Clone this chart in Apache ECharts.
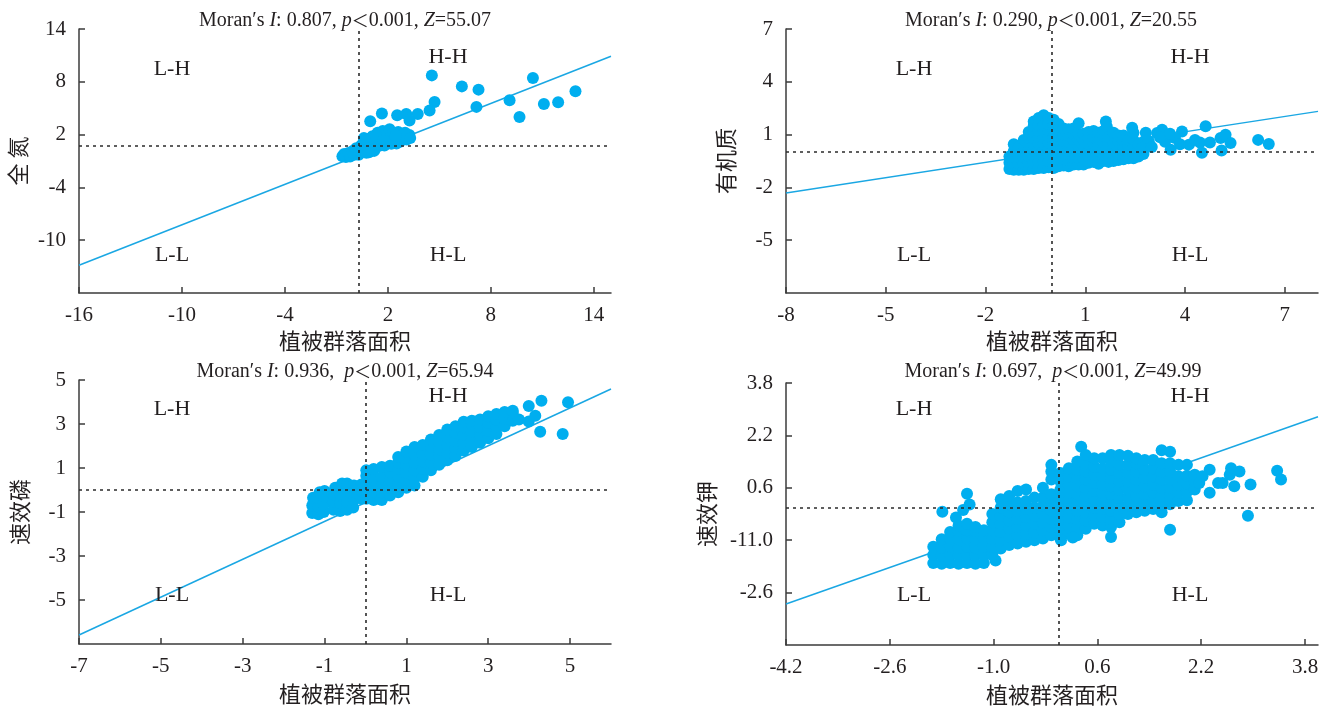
<!DOCTYPE html>
<html><head><meta charset="utf-8">
<script src="https://cdn.jsdelivr.net/npm/echarts@6/dist/echarts.min.js"></script>
<style>html,body{margin:0;padding:0;background:#fff}#c{width:1331px;height:707px}</style>
</head><body><div id="c"></div>
<script>
// ---------------- DATA ----------------
const xAxisName = '植被群落面积';
const yNames = ['全 氮', '有机质', '速效磷', '速效钾'];
const moranI = ['0.807', '0.290', '0.936', '0.697'];
const moranZ = ['55.07', '20.55', '65.94', '49.99'];
const quadLabels = ['L-H', 'H-H', 'L-L', 'H-L'];

const xRange = [[-16, 15], [-8, 8], [-7, 6], [-4.2, 4.0]];
const yRange = [[-16, 14], [-8, 7], [-7, 5], [-4.2, 3.8]];
const xTicks = [[-16, -10, -4, 2, 8, 14], [-8, -5, -2, 1, 4, 7], [-7, -5, -3, -1, 1, 3, 5], [-4.2, -2.6, -1.0, 0.6, 2.2, 3.8]];
const yTicks = [[-10, -4, 2, 8, 14], [-5, -2, 1, 4, 7], [-5, -3, -1, 1, 3, 5], [-2.6, -1.0, 0.6, 2.2, 3.8]];
const xTickLabels = [['-16', '-10', '-4', '2', '8', '14'], ['-8', '-5', '-2', '1', '4', '7'], ['-7', '-5', '-3', '-1', '1', '3', '5'], ['-4.2', '-2.6', '-1.0', '0.6', '2.2', '3.8']];
const yTickLabels = [['-10', '-4', '2', '8', '14'], ['-5', '-2', '1', '4', '7'], ['-5', '-3', '-1', '1', '3', '5'], ['-2.6', '-11.0', '0.6', '2.2', '3.8']];

// mean reference lines (x, y)
const meanLines = [[0.33, 0.77], [0, 0], [0, 0], [0, 0]];

// regression (Moran) lines: endpoints
const fitN = [[-16, -12.84], [15, 10.9]];
const fitOM = [[-8, -2.32], [8, 2.32]];
const fitP = [[-7, -6.59], [6, 4.59]];
const fitK = [[-4.2, -2.95], [4.0, 2.77]];

// 全氮 points
const ptsN = [
[4.56,8.73],[6.31,7.48],[7.28,7.11],[10.45,8.44],[12.93,6.92],[9.09,5.90],[11.09,5.49],[11.92,5.67],[9.67,4.01],[7.16,5.15],
[4.72,5.71],[4.43,4.73],[3.74,4.35],[3.07,4.35],[2.54,4.19],[1.65,4.39],[0.97,3.51],[3.26,3.59],
[-0.65,-0.45],[-0.55,-0.2],[-0.45,-0.55],[-0.3,-0.1],[-0.2,-0.5],[-0.05,0.15],[0.05,-0.3],[0.15,0.45],[0.3,-0.3],[0.35,0.1],
[0.45,0.8],[0.55,0.25],[0.6,1.2],[0.75,-0.05],[0.8,0.6],[0.85,1.5],[1.0,1.0],[1.0,0.25],[1.1,1.8],[1.2,1.3],[1.3,0.5],
[1.4,2.2],[1.5,1.6],[1.6,0.8],[1.7,2.4],[1.8,0.75],[1.9,1.8],[2.0,1.2],[2.1,2.6],[2.2,0.95],[2.3,2.1],[2.4,1.5],[2.6,2.3],
[2.7,1.2],[2.8,1.8],[3.0,2.2],[3.1,1.45],[3.25,1.95],[3.3,1.6],[2.5,1.0],[1.2,0.15],[0.9,0.0],[0.6,1.6],[1.3,1.9],[1.75,1.3],[2.45,1.9]
];

// 有机质 points
const ptsOM = [
[-1.28,-0.95],[-1.28,-0.6],[-1.28,-0.25],
[-1.15,-1.0],[-1.15,-0.65],[-1.15,-0.3],[-1.15,0.05],[-1.15,0.45],
[-1.0,-1.0],[-1.0,-0.65],[-1.0,-0.3],[-1.0,0.05],[-1.0,0.3],
[-0.85,-1.0],[-0.85,-0.65],[-0.85,-0.3],[-0.85,0.05],[-0.85,0.4],[-0.85,0.7],
[-0.7,-0.95],[-0.7,-0.6],[-0.7,-0.25],[-0.7,0.1],[-0.7,0.45],[-0.7,0.8],[-0.7,1.15],
[-0.55,-0.95],[-0.55,-0.6],[-0.55,-0.25],[-0.55,0.1],[-0.55,0.45],[-0.55,0.8],[-0.55,1.15],[-0.55,1.5],[-0.55,1.75],
[-0.4,-0.9],[-0.4,-0.55],[-0.4,-0.2],[-0.4,0.15],[-0.4,0.5],[-0.4,0.85],[-0.4,1.2],[-0.4,1.55],[-0.4,1.95],
[-0.25,-0.9],[-0.25,-0.55],[-0.25,-0.2],[-0.25,0.15],[-0.25,0.5],[-0.25,0.85],[-0.25,1.2],[-0.25,1.55],[-0.25,2.1],
[-0.1,-0.85],[-0.1,-0.5],[-0.1,-0.15],[-0.1,0.2],[-0.1,0.55],[-0.1,0.9],[-0.1,1.25],[-0.1,1.6],[-0.1,1.95],
[0.05,-0.9],[0.05,-0.55],[0.05,-0.2],[0.05,0.15],[0.05,0.5],[0.05,0.85],[0.05,1.2],[0.05,1.55],[0.05,1.85],
[0.2,-0.8],[0.2,-0.45],[0.2,-0.1],[0.2,0.25],[0.2,0.6],[0.2,0.95],[0.2,1.3],[0.2,1.6],
[0.35,-0.75],[0.35,-0.4],[0.35,-0.05],[0.35,0.3],[0.35,0.65],[0.35,1.0],[0.35,1.35],
[0.5,-0.8],[0.5,-0.45],[0.5,-0.1],[0.5,0.25],[0.5,0.6],[0.5,0.95],[0.5,1.3],
[0.65,-0.7],[0.65,-0.35],[0.65,0.0],[0.65,0.35],[0.65,0.7],[0.65,1.05],[0.65,1.35],
[0.8,-0.7],[0.8,-0.35],[0.8,0.0],[0.8,0.35],[0.8,0.7],[0.8,1.05],[0.8,1.65],
[0.95,-0.7],[0.95,-0.35],[0.95,0.0],[0.95,0.35],[0.95,0.7],[0.95,1.05],
[1.1,-0.6],[1.1,-0.25],[1.1,0.1],[1.1,0.45],[1.1,0.8],[1.1,1.15],
[1.25,-0.55],[1.25,-0.2],[1.25,0.15],[1.25,0.5],[1.25,0.85],[1.25,1.2],
[1.4,-0.65],[1.4,-0.3],[1.4,0.05],[1.4,0.4],[1.4,0.75],[1.4,1.1],
[1.55,-0.5],[1.55,-0.15],[1.55,0.2],[1.55,0.55],[1.55,0.9],[1.55,1.2],[1.65,1.45],
[1.7,-0.55],[1.7,-0.2],[1.7,0.15],[1.7,0.5],[1.7,0.85],
[1.85,-0.5],[1.85,-0.15],[1.85,0.2],[1.85,0.55],[1.85,0.9],[1.85,1.1],
[2.0,-0.45],[2.0,-0.1],[2.0,0.25],[2.0,0.6],[2.0,0.95],
[2.15,-0.4],[2.15,-0.05],[2.15,0.3],[2.15,0.65],[2.15,0.95],
[2.3,-0.35],[2.3,0.0],[2.3,0.35],[2.3,0.7],
[2.45,-0.35],[2.45,0.0],[2.45,0.35],[2.45,0.7],[2.45,1.1],
[2.6,-0.25],[2.6,0.1],[2.6,0.45],[2.75,-0.1],[2.75,0.25],[2.75,0.6],
[2.82,1.1],[2.91,0.62],[2.71,0.25],[3.16,1.09],[3.31,1.28],[3.57,0.14],[3.91,1.18],[4.12,0.43],[4.3,0.7],[4.51,-0.03],
[4.62,1.47],[5.07,0.81],[5.22,0.99],[5.37,0.52],[5.1,0.1],[6.2,0.7],[6.52,0.47],[3.0,0.3],[3.4,0.6],[3.7,0.8],
[3.25,0.85],[3.55,1.05],[3.85,0.45],[4.45,0.55],[4.75,0.55],[2.41,1.39],[1.62,1.75]
];

// 速效磷 points
const ptsP = [
[-1.3,-1.05],[-1.3,-0.7],[-1.28,-0.35],[-1.15,-1.1],[-1.15,-0.75],[-1.15,-0.4],[-1.12,-0.1],[-1.02,-1.0],[-1.02,-0.65],[-1.0,-0.3],[-1.0,-0.05],
[-0.78,-0.9],[-0.78,-0.55],[-0.76,-0.2],[-0.74,0.1],[-0.62,-0.95],[-0.62,-0.6],[-0.6,-0.25],[-0.58,0.1],[-0.57,0.3],
[-0.45,-0.9],[-0.45,-0.55],[-0.43,-0.2],[-0.42,0.1],[-0.45,0.3],[-0.3,-0.8],[-0.28,-0.45],[-0.26,-0.1],[-0.28,0.2],
[-0.1,-0.4],[-0.1,-0.05],[-0.1,0.25],
[0.02,-0.4],[0.02,-0.05],[0.02,0.3],[0.02,0.65],[0.02,0.9],
[0.2,-0.45],[0.2,-0.1],[0.2,0.25],[0.2,0.6],[0.2,0.95],
[0.4,-0.45],[0.4,-0.1],[0.4,0.25],[0.4,0.6],[0.4,1.05],
[0.6,-0.25],[0.6,0.1],[0.6,0.45],[0.6,0.8],[0.6,1.1],
[0.8,-0.1],[0.8,0.25],[0.8,0.6],[0.8,0.95],[0.8,1.25],[0.8,1.5],
[1.0,0.1],[1.0,0.45],[1.0,0.8],[1.0,1.15],[1.0,1.45],[1.0,1.75],
[1.2,0.2],[1.2,0.55],[1.2,0.9],[1.2,1.25],[1.2,1.6],[1.2,1.95],
[1.4,0.6],[1.4,0.95],[1.4,1.3],[1.4,1.65],[1.4,2.05],
[1.6,0.9],[1.6,1.25],[1.6,1.6],[1.6,1.95],[1.6,2.3],
[1.8,1.15],[1.8,1.5],[1.8,1.85],[1.8,2.2],[1.8,2.5],
[2.0,1.35],[2.0,1.7],[2.0,2.05],[2.0,2.4],[2.0,2.75],
[2.2,1.55],[2.2,1.9],[2.2,2.25],[2.2,2.6],[2.2,2.9],
[2.4,1.8],[2.4,2.15],[2.4,2.5],[2.4,2.85],[2.4,3.1],
[2.6,1.95],[2.6,2.3],[2.6,2.65],[2.6,3.0],[2.6,3.15],
[2.8,2.15],[2.8,2.5],[2.8,2.85],[2.8,3.2],
[3.0,2.35],[3.0,2.7],[3.0,3.05],[3.0,3.35],
[3.2,2.55],[3.2,2.9],[3.2,3.2],[3.2,3.45],
[3.4,2.9],[3.4,3.25],[3.4,3.55],[3.6,3.15],[3.6,3.5],[3.6,3.6],[3.75,3.2],
[3.99,3.82],[4.3,4.06],[4.95,3.99],[4.15,3.37],[3.99,3.11],[4.27,2.65],[4.82,2.55]
];

// 速效钾 points
const ptsK = [
[-1.93,-1.7],[-1.93,-1.45],[-1.93,-1.2],
[-1.8,-1.72],[-1.8,-1.47],[-1.8,-1.22],[-1.8,-0.97],
[-1.67,-1.7],[-1.67,-1.45],[-1.67,-1.2],[-1.67,-0.95],[-1.67,-0.75],
[-1.54,-1.72],[-1.54,-1.47],[-1.54,-1.22],[-1.54,-0.97],[-1.54,-0.72],[-1.54,-0.55],
[-1.41,-1.7],[-1.41,-1.45],[-1.41,-1.2],[-1.41,-0.95],[-1.41,-0.7],[-1.41,-0.5],
[-1.28,-1.72],[-1.28,-1.47],[-1.28,-1.22],[-1.28,-0.97],[-1.28,-0.72],[-1.28,-0.6],
[-1.15,-1.7],[-1.15,-1.45],[-1.15,-1.2],[-1.15,-0.95],[-1.15,-0.7],
[-1.41,0.42],[-1.37,0.09],[-1.47,-0.08],[-1.79,-0.13],[-1.58,-0.31],[-0.97,-1.62],
[-1.02,-1.45],[-1.02,-1.2],[-1.02,-0.95],[-1.02,-0.7],[-1.02,-0.45],[-1.02,-0.2],
[-0.89,-1.25],[-0.89,-1.0],[-0.89,-0.75],[-0.89,-0.5],[-0.89,-0.25],[-0.89,0.0],[-0.89,0.25],
[-0.76,-1.15],[-0.76,-0.9],[-0.76,-0.65],[-0.76,-0.4],[-0.76,-0.15],[-0.76,0.1],[-0.76,0.35],
[-0.63,-1.1],[-0.63,-0.85],[-0.63,-0.6],[-0.63,-0.35],[-0.63,-0.1],[-0.63,0.15],[-0.63,0.5],
[-0.5,-1.05],[-0.5,-0.8],[-0.5,-0.55],[-0.5,-0.3],[-0.5,-0.05],[-0.5,0.2],[-0.5,0.55],
[-0.37,-1.0],[-0.37,-0.75],[-0.37,-0.5],[-0.37,-0.25],[-0.37,0.0],[-0.37,0.3],
[-0.24,-0.95],[-0.24,-0.7],[-0.24,-0.45],[-0.24,-0.2],[-0.24,0.05],[-0.24,0.3],[-0.24,0.6],
[-0.11,-0.85],[-0.11,-0.6],[-0.11,-0.35],[-0.11,-0.1],[-0.11,0.15],[-0.11,0.4],[-0.11,0.85],[-0.11,1.1],[-0.11,1.3],
[0.03,-0.95],[0.03,-0.7],[0.03,-0.45],[0.03,-0.2],[0.03,0.05],[0.03,0.3],[0.03,0.55],[0.03,0.8],[0.03,1.05],
[0.16,-0.8],[0.16,-0.55],[0.16,-0.3],[0.16,-0.05],[0.16,0.2],[0.16,0.45],[0.16,0.7],[0.16,0.95],[0.16,1.2],
[0.29,-0.85],[0.29,-0.6],[0.29,-0.35],[0.29,-0.1],[0.29,0.15],[0.29,0.4],[0.29,0.65],[0.29,0.9],[0.29,1.15],[0.29,1.4],[0.35,1.85],
[0.42,-0.65],[0.42,-0.4],[0.42,-0.15],[0.42,0.1],[0.42,0.35],[0.42,0.6],[0.42,0.85],[0.42,1.1],[0.42,1.35],[0.42,1.6],
[0.55,-0.5],[0.55,-0.25],[0.55,0.0],[0.55,0.25],[0.55,0.5],[0.55,0.75],[0.55,1.0],[0.55,1.25],[0.55,1.5],
[0.68,-0.55],[0.68,-0.3],[0.68,-0.05],[0.68,0.2],[0.68,0.45],[0.68,0.7],[0.68,0.95],[0.68,1.2],[0.68,1.5],
[0.81,-0.9],[0.81,-0.6],[0.81,-0.35],[0.81,-0.1],[0.81,0.15],[0.81,0.4],[0.81,0.65],[0.81,0.9],[0.81,1.15],[0.81,1.4],[0.81,1.6],
[0.94,-0.45],[0.94,-0.2],[0.94,0.05],[0.94,0.3],[0.94,0.55],[0.94,0.8],[0.94,1.05],[0.94,1.3],[0.94,1.6],
[1.07,-0.2],[1.07,0.05],[1.07,0.3],[1.07,0.55],[1.07,0.8],[1.07,1.05],[1.07,1.3],[1.07,1.58],
[1.2,-0.15],[1.2,0.1],[1.2,0.35],[1.2,0.6],[1.2,0.85],[1.2,1.1],[1.2,1.35],[1.2,1.5],
[1.33,-0.1],[1.33,0.15],[1.33,0.4],[1.33,0.65],[1.33,0.9],[1.33,1.15],[1.33,1.45],
[1.46,-0.05],[1.46,0.2],[1.46,0.45],[1.46,0.7],[1.46,0.95],[1.46,1.2],[1.46,1.45],
[1.59,-0.15],[1.59,0.1],[1.59,0.35],[1.59,0.6],[1.59,0.85],[1.59,1.1],[1.59,1.35],[1.59,1.75],
[1.72,-0.68],[1.72,0.1],[1.72,0.35],[1.72,0.6],[1.72,0.85],[1.72,1.1],[1.72,1.35],[1.72,1.7],
[1.85,0.2],[1.85,0.45],[1.85,0.7],[1.85,0.95],[1.85,1.3],
[1.98,0.22],[1.98,0.47],[1.98,0.72],[1.98,0.97],[1.98,1.3],
[2.1,0.55],[2.1,0.8],[2.1,1.0],
[2.33,1.15],[2.33,0.45],[2.53,0.75],[2.64,1.0],[2.66,1.2],[2.79,1.1],[2.71,0.65],[2.96,0.7],[2.92,-0.25],[3.37,1.12],
[3.43,0.85],[2.17,0.75],[2.22,0.95],[2.46,0.75],[0.04,-1.0],[0.22,-0.92]
];

const pointSets = [ptsN, ptsOM, ptsP, ptsK];
const fitLines = [fitN, fitOM, fitP, fitK];

// ---------------- LAYOUT ----------------
const grids = [
  {left: 79, top: 29, width: 532, height: 264},
  {left: 786, top: 29, width: 532, height: 264},
  {left: 79, top: 380, width: 532, height: 264},
  {left: 786, top: 383, width: 532, height: 264}
];
const yNameGap = [50, 49, 48, 68];
const xNameGap = [37, 37, 39, 39];
const titlePos = [[345, 21, ' '], [1051, 21, ' '], [345, 372, '  '], [1053, 372, '  ']];
const quadPos = [
  [[172, 69], [448, 57], [172, 255], [448, 255]],
  [[914, 69], [1190, 57], [914, 255], [1190, 255]],
  [[172, 409], [448, 396], [172, 595], [448, 595]],
  [[914, 409], [1190, 396], [914, 595], [1190, 595]]
];

const SERIF = '"Liberation Serif", "Times New Roman", serif';
const CJK = '"Noto Sans CJK SC", sans-serif';
const TXT = '#231f20';
const AX = '#3b3b3b';
const DOT = '#00AEEF';
const FIT = '#1AA7E3';

function lookup(ticks, labels) {
  return function (v) {
    for (let k = 0; k < ticks.length; k++) if (Math.abs(ticks[k] - v) < 1e-6) return labels[k];
    return '';
  };
}

const xAxes = [], yAxes = [], series = [], graphics = [];
for (let i = 0; i < 4; i++) {
  xAxes.push({
    type: 'value', gridIndex: i, min: xRange[i][0], max: xRange[i][1],
    name: xAxisName, nameLocation: 'middle', nameGap: xNameGap[i],
    nameTextStyle: {fontFamily: CJK, fontSize: 22, color: TXT},
    axisLine: {show: true, onZero: false, lineStyle: {color: AX, width: 1.5}},
    axisTick: {show: true, inside: true, length: 6, customValues: xTicks[i], lineStyle: {color: AX, width: 1.5}},
    axisLabel: {customValues: xTicks[i], formatter: lookup(xTicks[i], xTickLabels[i]), fontFamily: SERIF, fontSize: 21, color: TXT, margin: 12},
    splitLine: {show: false}
  });
  yAxes.push({
    type: 'value', gridIndex: i, min: yRange[i][0], max: yRange[i][1],
    name: yNames[i], nameLocation: 'middle', nameGap: yNameGap[i], nameRotate: 90,
    nameTextStyle: {fontFamily: CJK, fontSize: 22, color: TXT},
    axisLine: {show: true, onZero: false, lineStyle: {color: AX, width: 1.5}},
    axisTick: {show: true, inside: true, length: 6, customValues: yTicks[i], lineStyle: {color: AX, width: 1.5}},
    axisLabel: {customValues: yTicks[i], formatter: lookup(yTicks[i], yTickLabels[i]), fontFamily: SERIF, fontSize: 21, color: TXT, margin: 13},
    splitLine: {show: false}
  });
  series.push({
    type: 'line', xAxisIndex: i, yAxisIndex: i, data: fitLines[i], symbol: 'none', silent: true,
    lineStyle: {color: FIT, width: 1.5}, z: 1
  });
  series.push({
    type: 'scatter', xAxisIndex: i, yAxisIndex: i, data: pointSets[i], symbolSize: 12,
    itemStyle: {color: DOT, opacity: 1}, z: 2, silent: true
  });
  series.push({
    type: 'line', xAxisIndex: i, yAxisIndex: i, data: [], z: 5, silent: true,
    markLine: {
      silent: true, symbol: 'none', label: {show: false}, animation: false,
      lineStyle: {type: [3, 4], color: '#2b2b2b', width: 1.6},
      data: [{xAxis: meanLines[i][0]}, {yAxis: meanLines[i][1]}]
    }
  });
  const sp = titlePos[i][2];
  graphics.push({
    type: 'text', z: 10,
    style: {
      x: titlePos[i][0], y: titlePos[i][1], align: 'center', verticalAlign: 'middle',
      text: '{n|Moran\u2032s }{i|I}{n|: ' + moranI[i] + ',' + sp + '}{i|p}{c|\uFF1C}{n|0.001, }{i|Z}{n|=' + moranZ[i] + '}',
      rich: {
        n: {fontFamily: SERIF, fontSize: 20, fill: TXT},
        i: {fontFamily: SERIF, fontSize: 20, fontStyle: 'italic', fill: TXT},
        c: {fontFamily: CJK, fontSize: 17, fill: TXT}
      }
    }
  });
  for (let q = 0; q < 4; q++) {
    graphics.push({
      type: 'text', z: 10,
      style: {
        x: quadPos[i][q][0], y: quadPos[i][q][1], align: 'center', verticalAlign: 'middle',
        text: quadLabels[q], fontFamily: SERIF, fontSize: 22, fill: TXT
      }
    });
  }
}

const chart = echarts.init(document.getElementById('c'));
chart.setOption({
  animation: false,
  backgroundColor: '#fff',
  grid: grids,
  xAxis: xAxes,
  yAxis: yAxes,
  series: series,
  graphic: graphics
});
</script></body></html>
